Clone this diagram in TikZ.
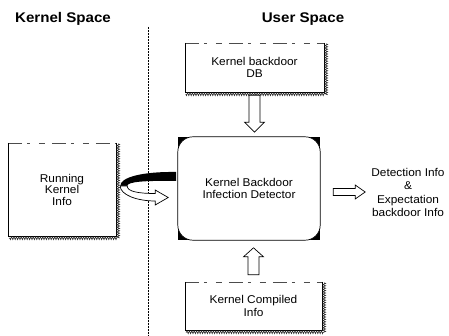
\documentclass[tikz,border=0pt]{standalone}
\usepackage{fontspec}
\setmainfont{Liberation Sans}
\newfontfamily\boxfont[FakeStretch=1.05]{Liberation Sans}
\newfontfamily\titlefont[FakeStretch=1.08]{Liberation Sans}
\usetikzlibrary{calc,decorations.pathmorphing}
\tikzset{
  boxtext/.style={inner sep=0pt, align=center, font=\boxfont\fontsize{11.3}{12.5}\selectfont},
  titletext/.style={inner sep=0pt, anchor=base, font=\titlefont\bfseries\fontsize{14}{16}\selectfont},
  topedge/.style={draw=black!70, line width=0.5pt, dash pattern=on 14pt off 5pt on 3pt off 9pt on 6pt off 7pt},
  leftedge/.style={draw=black, line width=0.6pt},
  rightedge/.style={draw=black, line width=0.6pt},
  hatch/.style={draw=black!85, line width=0.6pt, decorate, decoration={zigzag, amplitude=1.4pt, segment length=2.4pt}},
  blockarrow/.style={draw=black, line width=0.7pt, fill=white, line join=miter},
  divider/.style={draw=black, line width=0.5pt, densely dotted}
}
\newcommand\edgebox[1]{%
  \draw[topedge] (#1.north west) -- (#1.north east);
  \draw[leftedge] (#1.north west) -- (#1.south west);
  \draw[rightedge] (#1.north east) -- (#1.south east) -- (#1.south west);
  \draw[hatch] ($(#1.north east)+(2,1)$) -- ($(#1.south east)+(2,2)$) -- ($(#1.south west)+(1,2)$);
}
\begin{document}
\begin{tikzpicture}[x=1pt,y=-1pt]
\fill[white] (0,0) rectangle (449,336);
\useasboundingbox (0,0) rectangle (449,336);

% titles
\node[titletext] (kst) at (63,23) {Kernel Space};
\node[titletext] (ust) at (303,23) {User Space};

% divider
\coordinate (d1) at (148,27);
\coordinate (d2) at (148,336);
\draw[divider] (d1) -- (d2);

% boxes
\node[boxtext, minimum width=139pt, minimum height=49pt] (db) at (254.5,67.5) {Kernel backdoor\\DB};
\edgebox{db}
\node[boxtext, minimum width=108pt, minimum height=93pt, font=\boxfont\fontsize{11.3}{11.5}\selectfont] (run) at (62,189.5) {Running\\Kernel\\Info};
\edgebox{run}
\node[boxtext, minimum width=137pt, minimum height=48pt] (comp) at (253.5,306) {Kernel Compiled\\Info};
\edgebox{comp}

% detector
\node[boxtext, minimum width=142pt, minimum height=103pt] (det) at (249,188.5) {};
\fill[black] (det.north west) rectangle (det.south east);
\fill[white, rounded corners=15pt] (det.north west) rectangle (det.south east);
\draw[black, line width=0.7pt, rounded corners=15pt] (det.north west) rectangle (det.south east);
\node[boxtext] (dettext) at (det.center) {Kernel Backdoor\\Infection Detector};

% output text
\node[boxtext, font=\boxfont\fontsize{11.3}{13.5}\selectfont] (out) at (408,192.5) {Detection Info\\\&\\Expectation\\backdoor Info};

% down arrow db -> det
\draw[blockarrow] ($(db.south)+(-5.5,3)$) -- ($(db.south)+(5.5,3)$) -- ($(db.south)+(5.5,30)$) -- ($(db.south)+(10,30)$)
  -- ($(db.south)+(0,40)$) -- ($(db.south)+(-10,30)$) -- ($(db.south)+(-5.5,30)$) -- cycle;

% up arrow comp -> det
\draw[blockarrow] ($(comp.north)+(-5.5,-7)$) -- ($(comp.north)+(5.5,-7)$) -- ($(comp.north)+(5.5,-25)$) -- ($(comp.north)+(10,-25)$)
  -- ($(comp.north)+(0,-34)$) -- ($(comp.north)+(-10,-25)$) -- ($(comp.north)+(-5.5,-25)$) -- cycle;

% right arrow det -> out
\coordinate (ra) at ($(det.east)+(13,3.5)$);
\draw[blockarrow] ($(ra)+(0,-3.5)$) -- ($(ra)+(22,-3.5)$) -- ($(ra)+(22,-7)$) -- ($(ra)+(32,0)$)
  -- ($(ra)+(22,7)$) -- ($(ra)+(22,3.5)$) -- ($(ra)+(0,3.5)$) -- cycle;

% curved arrow run -> det
\begin{scope}[shift={(run.east)}]
  \fill[black] (60,-17.5) .. controls (25,-18) and (4,-12) .. (4,-3.5) -- (11,-3.5)
     .. controls (11,-8) and (30,-9) .. (60,-8.5) -- cycle;
  \draw[blockarrow] (4,-3.5) .. controls (4,5) and (20,11.5) .. (39,11.5) -- (39,15.5) -- (52,8)
     -- (39,0.5) -- (39,4) .. controls (22,4) and (11,2) .. (11,-3.5) -- cycle;
\end{scope}
\end{tikzpicture}
\end{document}
